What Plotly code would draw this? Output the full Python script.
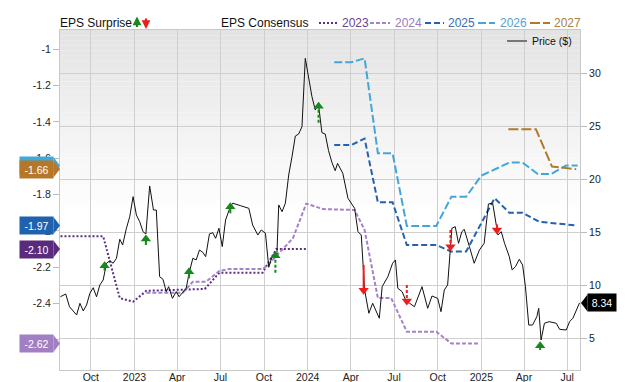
import plotly.graph_objects as go

# ---------------- data ----------------
price_dates = [
    "2022-07-29", "2022-08-09", "2022-08-17", "2022-09-01", "2022-09-08", "2022-09-15", "2022-09-22",
    "2022-09-29", "2022-10-06", "2022-10-13", "2022-10-20", "2022-10-27", "2022-11-03", "2022-11-10",
    "2022-11-17", "2022-11-24", "2022-12-01", "2022-12-07", "2022-12-15", "2022-12-22", "2022-12-29",
    "2023-01-05", "2023-01-12", "2023-01-19", "2023-01-25", "2023-02-02", "2023-02-10", "2023-02-16",
    "2023-02-23", "2023-03-02", "2023-03-09", "2023-03-14", "2023-03-22", "2023-03-30", "2023-04-05",
    "2023-04-20", "2023-04-26", "2023-05-04", "2023-05-11", "2023-05-18", "2023-05-25", "2023-05-31",
    "2023-06-08", "2023-06-15", "2023-06-21", "2023-06-28", "2023-07-05", "2023-07-12", "2023-07-22",
    "2023-07-27", "2023-08-13", "2023-08-30", "2023-09-07", "2023-09-18", "2023-09-25", "2023-10-04",
    "2023-10-11", "2023-10-18", "2023-10-23", "2023-10-28", "2023-11-01", "2023-11-08", "2023-11-15",
    "2023-11-22", "2023-11-29", "2023-12-06", "2023-12-13", "2023-12-20", "2023-12-27", "2024-01-03",
    "2024-01-10", "2024-01-17", "2024-01-24", "2024-01-31", "2024-02-07", "2024-02-14", "2024-02-21",
    "2024-02-28", "2024-03-04", "2024-03-15", "2024-03-26", "2024-04-09", "2024-04-16", "2024-04-23",
    "2024-04-26", "2024-04-30", "2024-05-09", "2024-05-17", "2024-05-31", "2024-06-06", "2024-06-18",
    "2024-06-28", "2024-07-04", "2024-07-09", "2024-07-18", "2024-07-27", "2024-08-03", "2024-08-13",
    "2024-08-29", "2024-09-10", "2024-09-19", "2024-10-01", "2024-10-08", "2024-10-15", "2024-10-22",
    "2024-10-31", "2024-11-07", "2024-11-14", "2024-11-21", "2024-11-26", "2024-12-07", "2024-12-17",
    "2024-12-28", "2025-01-07", "2025-01-16", "2025-01-25", "2025-02-05", "2025-02-12", "2025-02-19",
    "2025-03-01", "2025-03-07", "2025-03-14", "2025-03-22", "2025-03-29", "2025-04-04", "2025-04-11",
    "2025-04-19", "2025-04-28", "2025-05-02", "2025-05-07", "2025-05-14", "2025-05-24", "2025-06-08",
    "2025-06-15", "2025-06-29", "2025-07-06", "2025-07-13", "2025-07-27",
]
price_values = [
    8.92, 9.18, 7.98, 7.20, 8.30, 7.58, 8.14,
    9.25, 9.77, 8.92, 10.03, 10.50, 12.08, 12.32,
    12.08, 12.55, 14.34, 13.80, 15.38, 16.47, 18.36,
    16.63, 16.00, 15.06, 14.84, 19.37, 17.10, 17.10,
    10.81, 10.57, 9.40, 9.87, 8.77, 9.40, 8.92,
    9.72, 11.13, 12.55, 12.39, 13.33, 13.11, 12.70,
    14.84, 14.96, 14.43, 15.38, 13.65, 16.16, 17.42,
    17.74, 17.50, 17.26, 15.69, 14.74, 15.22, 14.91,
    11.70, 12.70, 13.02, 12.70, 17.58, 16.94, 17.74,
    20.40, 22.13, 24.08, 24.27, 24.96, 31.41, 29.68,
    27.80, 26.54, 27.01, 24.40, 24.27, 22.70, 21.60,
    20.81, 21.50, 20.57, 18.20, 17.26, 15.06, 14.74,
    12.08, 9.56, 7.36, 8.30, 6.89, 9.87, 10.81,
    12.08, 12.39, 9.72, 9.40, 8.45, 8.30, 7.98,
    9.87, 7.83, 8.99, 8.77, 7.51, 9.56, 10.03,
    15.38, 15.53, 13.96, 15.06, 15.28, 13.64, 12.08,
    13.33, 13.96, 17.67, 17.74, 14.74, 15.06, 13.96,
    12.70, 11.45, 11.76, 12.45, 11.92, 9.87, 6.25,
    6.25, 7.04, 7.83, 4.84, 6.42, 6.57, 6.42,
    5.85, 5.78, 6.57, 6.89, 8.34,
]

eps2023_dates = ["2022-07-29", "2022-10-27", "2022-12-01", "2022-12-29", "2023-01-26", "2023-05-29",
                 "2023-06-29", "2023-09-28", "2023-10-27", "2023-12-29"]
eps2023_values = [-2.03, -2.03, -2.37, -2.39, -2.33, -2.32, -2.23, -2.23, -2.10, -2.10]

eps2024_dates = ["2023-01-26", "2023-04-13", "2023-05-04", "2023-06-01", "2023-06-29", "2023-07-20",
                 "2023-09-28", "2023-10-12", "2023-12-01", "2023-12-29", "2024-02-02", "2024-04-09",
                 "2024-04-30", "2024-05-28", "2024-06-25", "2024-07-28", "2024-09-28", "2024-10-30",
                 "2024-12-28"]
eps2024_values = [-2.34, -2.34, -2.28, -2.28, -2.22, -2.21, -2.21, -2.18, -2.04, -1.85, -1.88, -1.885,
                  -1.995, -2.37, -2.37, -2.555, -2.555, -2.62, -2.62]

eps2025_dates = ["2024-02-26", "2024-04-02", "2024-04-30", "2024-05-28", "2024-06-28", "2024-07-28",
                 "2024-09-28", "2024-10-30", "2024-11-30", "2025-01-29", "2025-03-01", "2025-03-29",
                 "2025-05-03", "2025-07-20"]
eps2025_values = [-1.527, -1.527, -1.492, -1.843, -1.843, -2.078, -2.078, -2.114, -2.114, -1.82, -1.90,
                  -1.90, -1.95, -1.97]

eps2026_dates = ["2024-02-26", "2024-04-02", "2024-04-30", "2024-05-28", "2024-06-28", "2024-07-28",
                 "2024-09-28", "2024-10-30", "2024-11-30", "2025-01-01", "2025-03-01", "2025-03-29",
                 "2025-04-30", "2025-05-28", "2025-06-29", "2025-07-23"]
eps2026_values = [-1.072, -1.072, -1.05, -1.573, -1.573, -1.973, -1.973, -1.812, -1.812, -1.696, -1.624,
                  -1.624, -1.687, -1.687, -1.64, -1.64]

eps2027_dates = ["2025-02-27", "2025-04-26", "2025-05-30", "2025-07-20"]
eps2027_values = [-1.44, -1.44, -1.646, -1.66]

surprise_dates = ["2022-10-30", "2023-01-25", "2023-04-26", "2023-07-22", "2023-10-25", "2024-01-24",
                  "2024-04-28", "2024-07-28", "2024-10-28", "2025-02-03", "2025-05-05"]
surprise_kind = ["beat", "beat", "beat", "beat", "beat", "beat", "miss", "miss", "miss", "miss", "beat"]
surprise_head = [11.85, 14.37, 11.28, 17.42, 12.79, 26.89, 9.53, 8.52, 13.64, 15.22, 4.30]
surprise_tail = [11.38, 13.80, 10.66, 16.79, 11.19, 25.34, 11.92, 10.03, 15.22, 15.75, 3.90]
surprise_dashed = [False, False, False, False, True, True, False, True, True, False, False]

xtick_vals = ["2022-10-01", "2023-01-01", "2023-04-01", "2023-07-01", "2023-10-01", "2024-01-01",
              "2024-04-01", "2024-07-01", "2024-10-01", "2025-01-01", "2025-04-01", "2025-07-01"]
xtick_text = ["Oct", "2023", "Apr", "Jul", "Oct", "2024", "Apr", "Jul", "Oct", "2025", "Apr", "Jul"]
eps_tick_vals = [-2.6, -2.4, -2.2, -2.0, -1.8, -1.6, -1.4, -1.2, -1.0]
eps_tick_text = ["-2.6", "-2.4", "-2.2", "-2", "-1.8", "-1.6", "-1.4", "-1.2", "-1"]
price_tick_vals = [5, 10, 15, 20, 25, 30]

# ---------------- style ----------------
FONT = "Liberation Sans, Arial, sans-serif"
GREEN = "#17881b"
RED = "#ee1d1d"
series = [
    ("2023", eps2023_dates, eps2023_values, "#5c2d80", "#6b4392", "2px,2px", "#5a2b7c"),
    ("2024", eps2024_dates, eps2024_values, "#a582c8", "#9a7bbd", "4px,2px", "#a27fc2"),
    ("2025", eps2025_dates, eps2025_values, "#2262ae", "#3c6db0", "6px,3px", "#1f63ae"),
    ("2026", eps2026_dates, eps2026_values, "#44a6d8", "#5b9fcc", "8px,3px", "#3fa9d9"),
    ("2027", eps2027_dates, eps2027_values, "#b07a2c", "#a9803f", "10px,3px", "#b5782b"),
]

fig = go.Figure()

for name, d, v, col, tcol, dash, bcol in series:
    fig.add_trace(go.Scatter(x=d, y=v, mode="lines", yaxis="y",
                             line=dict(color=col, width=2, dash=dash),
                             showlegend=False, hoverinfo="skip"))

fig.add_trace(go.Scatter(x=price_dates, y=price_values, mode="lines", yaxis="y2",
                         line=dict(color="#111111", width=1), showlegend=False))

# surprise arrows
for kind, col, sym in [("beat", GREEN, "triangle-up"), ("miss", RED, "triangle-down")]:
    for dashed in (False, True):
        xs, ys = [], []
        for d, k, h, t, ds in zip(surprise_dates, surprise_kind, surprise_head, surprise_tail, surprise_dashed):
            if k == kind and ds == dashed:
                xs += [d, d, None]
                ys += [t, h, None]
        if xs:
            fig.add_trace(go.Scatter(x=xs, y=ys, mode="lines", yaxis="y2",
                                     line=dict(color=col, width=2, dash="3px,2px" if dashed else "solid"),
                                     showlegend=False, hoverinfo="skip"))
    hx = [d for d, k in zip(surprise_dates, surprise_kind) if k == kind]
    hy = [h for h, k in zip(surprise_head, surprise_kind) if k == kind]
    fig.add_trace(go.Scatter(x=hx, y=hy, mode="markers", yaxis="y2",
                             marker=dict(symbol=sym, size=9, color=col, line=dict(width=0)),
                             showlegend=False, hoverinfo="skip"))

shapes = []
annotations = []

# background gradient (top grey fading to white)
nb = 36
top_px, end_px = 30.0, 215.0
for i in range(nb):
    p0 = top_px + (end_px - top_px) * i / nb
    p1 = top_px + (end_px - top_px) * (i + 1) / nb
    t = (i + 0.5) / nb
    g = int(round(0xe3 + (0xff - 0xe3) * t))
    shapes.append(dict(type="rect", xref="paper", yref="paper", x0=0, x1=1,
                       y0=(370 - p1) / 340, y1=(370 - p0) / 340,
                       fillcolor=f"rgb({g},{g},{g})", line=dict(width=0), layer="below"))

# left value tags
for name, d, v, col, tcol, dash, bcol in series:
    val = v[-1]
    shapes.append(dict(type="path", xref="paper", xsizemode="pixel", xanchor=0,
                       yref="y", ysizemode="pixel", yanchor=val,
                       path="M -6.5 8.5 L 0 0 L -6.5 -8.5 Z",
                       fillcolor=bcol, line=dict(width=0), layer="above"))
    annotations.append(dict(x=0, xref="paper", xanchor="right", xshift=-6, y=val, yref="y",
                            yanchor="middle", text=f"{val:.2f}", showarrow=False,
                            font=dict(color="white", size=10.5, family=FONT),
                            bgcolor=bcol, width=31, height=15, borderpad=1, align="center"))

# right price tag
last_price = price_values[-1]
shapes.append(dict(type="path", xref="paper", xsizemode="pixel", xanchor=1,
                   yref="y2", ysizemode="pixel", yanchor=last_price,
                   path="M 7.5 8.5 L 1 0 L 7.5 -8.5 Z",
                   fillcolor="#000000", line=dict(width=0), layer="above"))
annotations.append(dict(x=1, xref="paper", xanchor="left", xshift=7, y=last_price, yref="y2",
                        yanchor="middle", text=f"{last_price:.2f}", showarrow=False,
                        font=dict(color="white", size=10.5, family=FONT),
                        bgcolor="#000000", width=26, height=15, borderpad=1, align="center"))

# top legend
def px2x(px):
    return (px - 60) / 520.0

def py2y(py):
    return (370 - py) / 340.0

ly = py2y(23)
annotations.append(dict(x=px2x(58), y=ly, xref="paper", yref="paper", xanchor="left", yanchor="middle",
                        text="EPS Surprise", showarrow=False, font=dict(size=12, color="#111", family=FONT)))
annotations.append(dict(x=px2x(137), y=py2y(16.5), xref="paper", yref="paper", text="", showarrow=True,
                        ax=0, ay=12, arrowhead=2, arrowsize=0.8, arrowwidth=2.2, arrowcolor=GREEN))
annotations.append(dict(x=px2x(146), y=py2y(29), xref="paper", yref="paper", text="", showarrow=True,
                        ax=0, ay=-12, arrowhead=2, arrowsize=0.8, arrowwidth=2.2, arrowcolor=RED))
annotations.append(dict(x=px2x(219), y=ly, xref="paper", yref="paper", xanchor="left", yanchor="middle",
                        text="EPS Consensus", showarrow=False, font=dict(size=12, color="#111", family=FONT)))
leg_x = [(319, 337, 340), (370, 390, 393), (425, 444, 446), (478, 495, 498), (530, 550, 552)]
for (name, d, v, col, tcol, dash, bcol), (a, b, tx) in zip(series, leg_x):
    shapes.append(dict(type="line", xref="paper", yref="paper", x0=px2x(a), x1=px2x(b), y0=ly, y1=ly,
                       line=dict(color=col, width=2, dash=dash)))
    annotations.append(dict(x=px2x(tx), y=ly, xref="paper", yref="paper", xanchor="left", yanchor="middle",
                            text=name, showarrow=False, font=dict(size=12, color=tcol, family=FONT)))
# price legend
shapes.append(dict(type="line", xref="paper", yref="paper", x0=px2x(507), x1=px2x(527),
                   y0=py2y(41), y1=py2y(41), line=dict(color="#777777", width=2)))
annotations.append(dict(x=px2x(530), y=py2y(41), xref="paper", yref="paper", xanchor="left", yanchor="middle",
                        text="Price ($)", showarrow=False, font=dict(size=10.5, color="#111", family=FONT)))

GRID = "#cfcfcf"
fig.update_layout(
    width=640, height=382, autosize=False,
    margin=dict(l=60, r=60, t=30, b=12, autoexpand=False),
    paper_bgcolor="white",
    plot_bgcolor="rgba(0,0,0,0)",
    font=dict(family=FONT, size=11, color="#222"),
    showlegend=False,
    shapes=shapes,
    annotations=annotations,
    xaxis=dict(range=["2022-07-28", "2025-07-28"], tickvals=xtick_vals, ticktext=xtick_text,
               showgrid=True, gridcolor=GRID, gridwidth=1, ticks="", zeroline=False,
               showline=True, linecolor="#c8c8c8", mirror=True, tickfont=dict(size=10.5),
               ticklabelstandoff=-3, automargin=False),
    yaxis=dict(range=[-2.766, -0.894], tickvals=eps_tick_vals, ticktext=eps_tick_text,
               showgrid=False, zeroline=False, ticks="outside", ticklen=6, tickcolor="#bbbbbb",
               showline=True, linecolor="#c8c8c8", tickfont=dict(size=10.5), automargin=False),
    yaxis2=dict(range=[2.01, 34.08], tickvals=price_tick_vals, overlaying="y", side="right",
                showgrid=True, gridcolor=GRID, gridwidth=1, zeroline=False, ticks="outside",
                ticklen=6, tickcolor="#bbbbbb", showline=True, linecolor="#c8c8c8",
                tickfont=dict(size=10.5), automargin=False),
)

fig.write_html("out.html",
               config={"responsive": False, "displayModeBar": False, "staticPlot": True},
               post_script="document.body.style.margin='0px';document.body.style.overflow='hidden';")
